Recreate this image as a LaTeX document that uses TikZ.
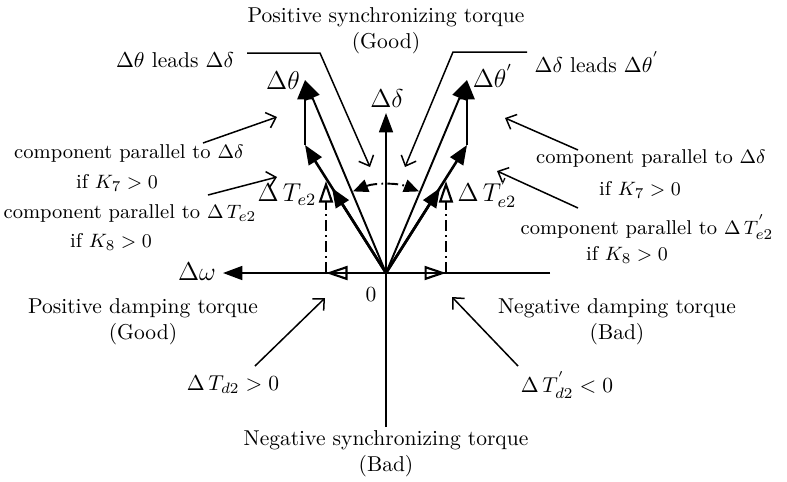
\documentclass[tikz,border=0pt]{standalone}
\usetikzlibrary{arrows.meta}
\begin{document}
\begin{tikzpicture}[x=0.465pt,y=0.465pt,
    axis/.style={line width=0.8pt,-{Triangle[length=9pt,width=6.5pt]}},
    vec/.style={line width=1.2pt,-{Triangle[length=9pt,width=7pt]}},
    res/.style={line width=0.9pt,-{Triangle[length=9pt,width=7pt]}},
    part/.style={line width=1pt,-{Triangle[open,length=10pt,width=6.5pt]}},
    dashdot/.style={dash pattern=on 5pt off 2pt on 0.8pt off 2pt},
    hint/.style={line width=0.7pt,-{Straight Barb[length=4pt,width=7.5pt]}},
    lbl/.style={font=\large},
    note/.style={font=\fontsize{9.3}{11}\selectfont}]
  \useasboundingbox (-386,-208) rectangle (401,273);
  \coordinate (O) at (0,0);
  \coordinate (xr) at (164,0);
  \coordinate (xl) at (-163,0);
  \coordinate (yb) at (0,-154);
  \coordinate (yt) at (0,160);
  \draw[axis] (xr) -- (xl);
  \draw[axis] (yb) -- (yt);
  \node[lbl] (dw) at (-189,1) {$\Delta\omega$};
  \node[lbl] (dd) at (1,174) {$\Delta\delta$};
  \node (zero) at (-15,-22) {0};
  \foreach \s/\n in {-1/l,1/r} {
    \coordinate (H\n) at (\s*60,0);
    \coordinate (P\n) at (\s*60,92);
    \coordinate (E\n) at (\s*54,85);
    \coordinate (C\n) at (\s*81,128);
    \coordinate (T\n) at (\s*81,193);
    \draw[part] (O) -- (H\n);
    \draw[part,dashdot] (H\n) -- (P\n);
    \draw[vec] (O) -- (E\n);
    \draw[vec] (O) -- (C\n);
    \draw[vec] (C\n) -- (T\n);
    \draw[res] (O) -- (T\n);
  }
  \draw[line width=0.9pt,dashdot,{Triangle[length=7pt,width=6pt]}-{Triangle[length=7pt,width=6pt]}]
    (112:88) arc[start angle=112,end angle=68,radius=88];
  \node[lbl] (thl) at (-103,192) {$\Delta\theta$};
  \node[lbl] (thr) at (107,197) {$\Delta\theta^{'}$};
  \node[lbl] (tel) at (-99,78) {$\Delta\,T_{e2}$};
  \node[lbl] (ter) at (101,80) {$\Delta\,T^{'}_{e2}$};
  \node (ldl) at (-211,213) {$\Delta\theta$ leads $\Delta\delta$};
  \node (ldr) at (211,211) {$\Delta\delta$ leads $\Delta\theta^{'}$};
  \coordinate (al) at (-16,106);
  \coordinate (ar) at (19,106);
  \draw[hint] ([shift={(72,7)}]ldl.center) -- ++(73,0) -- (al);
  \draw[hint] ([shift={(-70,10)}]ldr.center) -- ++(-74,0) -- (ar);
  \node[align=center] (ps) at (0,242) {Positive synchronizing torque\\(Good)};
  \node[align=center] (ns) at (0,-181) {Negative synchronizing torque\\(Bad)};
  \node[align=center] (pd) at (-243,-49) {Positive damping torque\\(Good)};
  \node[align=center] (nd) at (231,-49) {Negative damping torque\\(Bad)};
  \foreach \n/\x/\y/\t in {
      cl1/-257/120/{component parallel to $\Delta\delta$},
      kl7/-269/90/{if $K_7 > 0$},
      cl2/-256/60/{component parallel to $\Delta\,T_{e2}$},
      kl8/-275/31/{if $K_8 > 0$},
      cr1/265/115/{component parallel to $\Delta\delta$},
      kr7/254/83/{if $K_7 > 0$},
      cr2/261/46/{component parallel to $\Delta\,T^{'}_{e2}$},
      kr8/241/18/{if $K_8 > 0$}}
    \node[note] (\n) at (\x,\y) {\t};
  \coordinate (ql1) at (-109,156);
  \coordinate (ql2) at (-109,96);
  \coordinate (qr1) at (119,155);
  \coordinate (qr2) at (111,102);
  \draw[hint] ([shift={(74,10)}]cl1.center) -- (ql1);
  \draw[hint] ([shift={(78,18)}]cl2.center) -- (ql2);
  \draw[hint] ([shift={(-73,8)}]cr1.center) -- (qr1);
  \draw[hint] ([shift={(-69,19)}]cr2.center) -- (qr2);
  \node (tdl) at (-153,-112) {$\Delta\,T_{d2} > 0$};
  \node (tdr) at (181,-112) {$\Delta\,T^{'}_{d2} < 0$};
  \coordinate (bl) at (-61,-25);
  \coordinate (br) at (66,-24);
  \draw[hint] ([shift={(22,19)}]tdl.center) -- (bl);
  \draw[hint] ([shift={(-49,19)}]tdr.center) -- (br);
\end{tikzpicture}
\end{document}
